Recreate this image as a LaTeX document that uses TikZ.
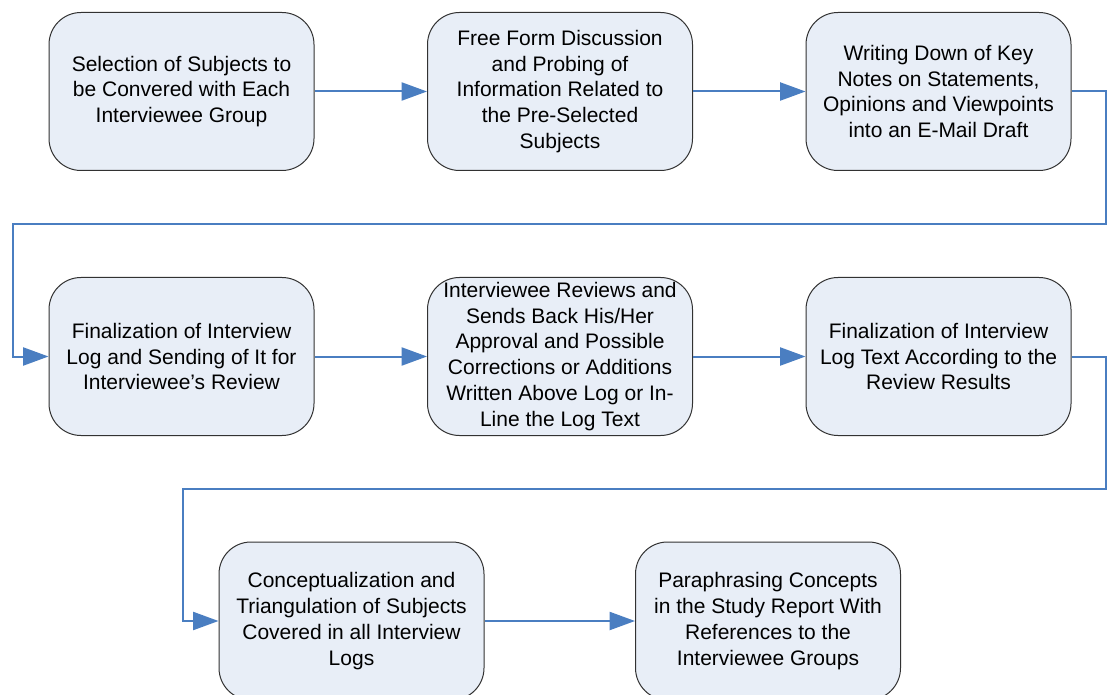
\documentclass[tikz,border=0pt]{standalone}
\usepackage{fontspec}
\setmainfont{Liberation Sans}
\usetikzlibrary{arrows.meta}
\definecolor{boxfill}{RGB}{232,238,247}
\definecolor{boxline}{RGB}{50,50,50}
\definecolor{flow}{RGB}{74,126,193}
\begin{document}
\begin{tikzpicture}[x=0.75pt,y=-0.75pt,
  stepbox/.style={draw=boxline,line width=0.75pt,fill=boxfill,rounded corners=24pt,
    minimum width=198.75pt,minimum height=118.5pt,inner sep=2pt,align=center,
    font=\fontsize{15.75}{19.4}\selectfont},
  flowline/.style={draw=flow,line width=1.5pt,
    -{Triangle[length=19pt,width=13.5pt]}}]
\clip (0,0) rectangle (1110,695);
\fill[white] (0,0) rectangle (1110,695);

% first row
\node[stepbox] (s1) at (181.5,91.5) {Selection of Subjects to\\be Convered with Each\\Interviewee Group};
\node[stepbox] (s2) at (560,91.5) {Free Form Discussion\\and Probing of\\Information Related to\\the Pre-Selected\\Subjects};
\node[stepbox] (s3) at (938.5,91.5) {Writing Down of Key\\Notes on Statements,\\Opinions and Viewpoints\\into an E-Mail Draft};

% second row
\node[stepbox] (s4) at (181.5,356.5) {Finalization of Interview\\Log and Sending of It for\\Interviewee’s Review};
\node[stepbox] (s5) at (560,356.5) {Interviewee Reviews and\\Sends Back His/Her\\Approval and Possible\\Corrections or Additions\\Written Above Log or In-\\Line the Log Text};
\node[stepbox] (s6) at (938.5,356.5) {Finalization of Interview\\Log Text According to the\\Review Results};

% third row
\node[stepbox] (s7) at (351.5,621) {Conceptualization and\\Triangulation of Subjects\\Covered in all Interview\\Logs};
\node[stepbox] (s8) at (768,621) {Paraphrasing Concepts\\in the Study Report With\\References to the\\Interviewee Groups};

% return paths between rows
\coordinate (r1) at (1106,224);
\coordinate (l1) at (13,224);
\coordinate (r2) at (1106,489);
\coordinate (l2) at (183,489);

\draw[flowline] (s1) -- (s2);
\draw[flowline] (s2) -- (s3);
\draw[flowline] (s3.east) -| (r1) -- (l1) |- (s4.west);
\draw[flowline] (s4) -- (s5);
\draw[flowline] (s5) -- (s6);
\draw[flowline] (s6.east) -| (r2) -- (l2) |- (s7.west);
\draw[flowline] (s7) -- (s8);
\end{tikzpicture}
\end{document}
